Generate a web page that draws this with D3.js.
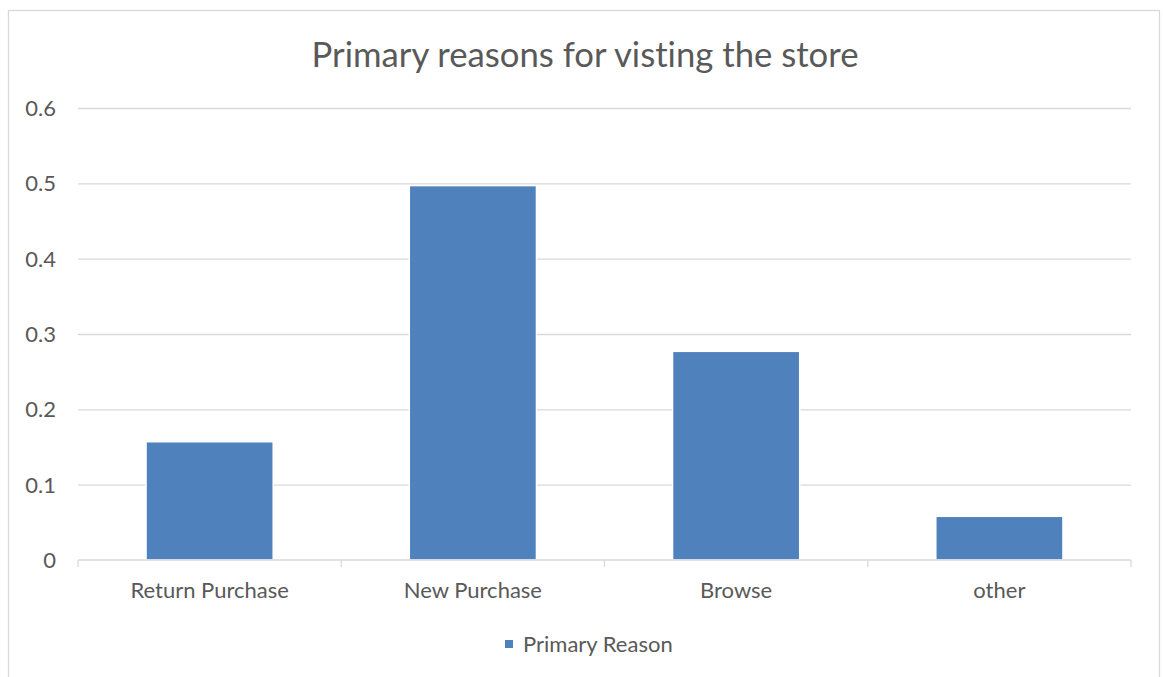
<!DOCTYPE html>
<html>
<head>
<meta charset="utf-8">
<script src="https://cdn.jsdelivr.net/npm/d3@7"></script>
<style>
  body { margin: 0; background: #fff; }
  svg { font-family: Lato, "Open Sans", sans-serif; font-variant-ligatures: none; }
  .grid line { stroke: #d9d9d9; stroke-width: 1.3; }
  .grid path { display: none; }
  .axis text { fill: #595959; font-size: 22px; }
</style>
</head>
<body>
<svg width="1163" height="677"></svg>
<script>
const width = 1163
const height = 677
const margins = { top: 108, bottom: 117, left: 78, right: 32 }

// chart values
const categories = ["Return Purchase", "New Purchase", "Browse", "other"]
const values = [0.157, 0.497, 0.277, 0.058]
const yTicks = [0, 0.1, 0.2, 0.3, 0.4, 0.5, 0.6]
const seriesName = "Primary Reason"
const title = "Primary reasons for visting the store"

const svg = d3.select("svg")

// chart border
svg.append("rect")
    .attr("x", 8.5).attr("y", 10.5)
    .attr("width", 1151).attr("height", 700)
    .attr("fill", "#fff")
    .attr("stroke", "#d9d9d9")
    .attr("stroke-width", 1.3)

// scales
const xScale = d3.scaleBand()
    .domain(categories)
    .range([margins.left, width - margins.right])
    .paddingInner(0.517)
    .paddingOuter(0.2585)

const yScale = d3.scaleLinear()
    .domain([0, 0.6])
    .range([height - margins.bottom, margins.top])

// grid lines
svg.append("g")
    .attr("class", "grid")
    .attr("transform", `translate(${margins.left},0)`)
    .call(d3.axisRight(yScale)
        .tickValues(yTicks.filter(d => d > 0))
        .tickSize(width - margins.left - margins.right)
        .tickFormat(""))

// y axis labels
svg.append("g")
    .attr("class", "axis")
    .selectAll("text")
    .data(yTicks)
    .join("text")
    .attr("x", 56)
    .attr("y", d => yScale(d))
    .attr("dy", "0.36em")
    .attr("text-anchor", "end")
    .text(d => d === 0 ? "0" : d3.format(".1f")(d))

// bars
svg.append("g")
    .selectAll("rect")
    .data(values)
    .join("rect")
    .attr("x", (d, i) => xScale(categories[i]))
    .attr("y", d => yScale(d))
    .attr("width", xScale.bandwidth())
    .attr("height", d => yScale(0) - yScale(d))
    .attr("fill", "#4f81bd")
    .attr("stroke", "#fff")
    .attr("stroke-width", 1.5)

// x axis with ticks between categories
const plotW = width - margins.left - margins.right
const xAxisG = svg.append("g").attr("class", "axis")
xAxisG.append("line")
    .attr("x1", margins.left).attr("x2", width - margins.right)
    .attr("y1", yScale(0)).attr("y2", yScale(0))
    .attr("stroke", "#d9d9d9").attr("stroke-width", 1.3)
xAxisG.selectAll(".tk")
    .data(d3.range(categories.length + 1))
    .join("line")
    .attr("class", "tk")
    .attr("x1", i => margins.left + i * plotW / categories.length)
    .attr("x2", i => margins.left + i * plotW / categories.length)
    .attr("y1", yScale(0)).attr("y2", yScale(0) + 7)
    .attr("stroke", "#d9d9d9").attr("stroke-width", 1.3)
xAxisG.selectAll(".lbl")
    .data(categories)
    .join("text")
    .attr("class", "lbl")
    .attr("x", d => xScale(d) + xScale.bandwidth() / 2)
    .attr("y", 598)
    .attr("text-anchor", "middle")
    .text(d => d)

// title
svg.append("text")
    .attr("x", 585)
    .attr("y", 67)
    .attr("text-anchor", "middle")
    .attr("fill", "#595959")
    .style("font-size", "34.7px")
    .text(title)

// legend
const legend = svg.append("g").attr("class", "axis")
legend.append("rect")
    .attr("x", 505).attr("y", 640)
    .attr("width", 8).attr("height", 8)
    .attr("fill", "#4f81bd")
legend.append("text")
    .attr("x", 523)
    .attr("y", 652)
    .text(seriesName)
</script>
</body>
</html>
